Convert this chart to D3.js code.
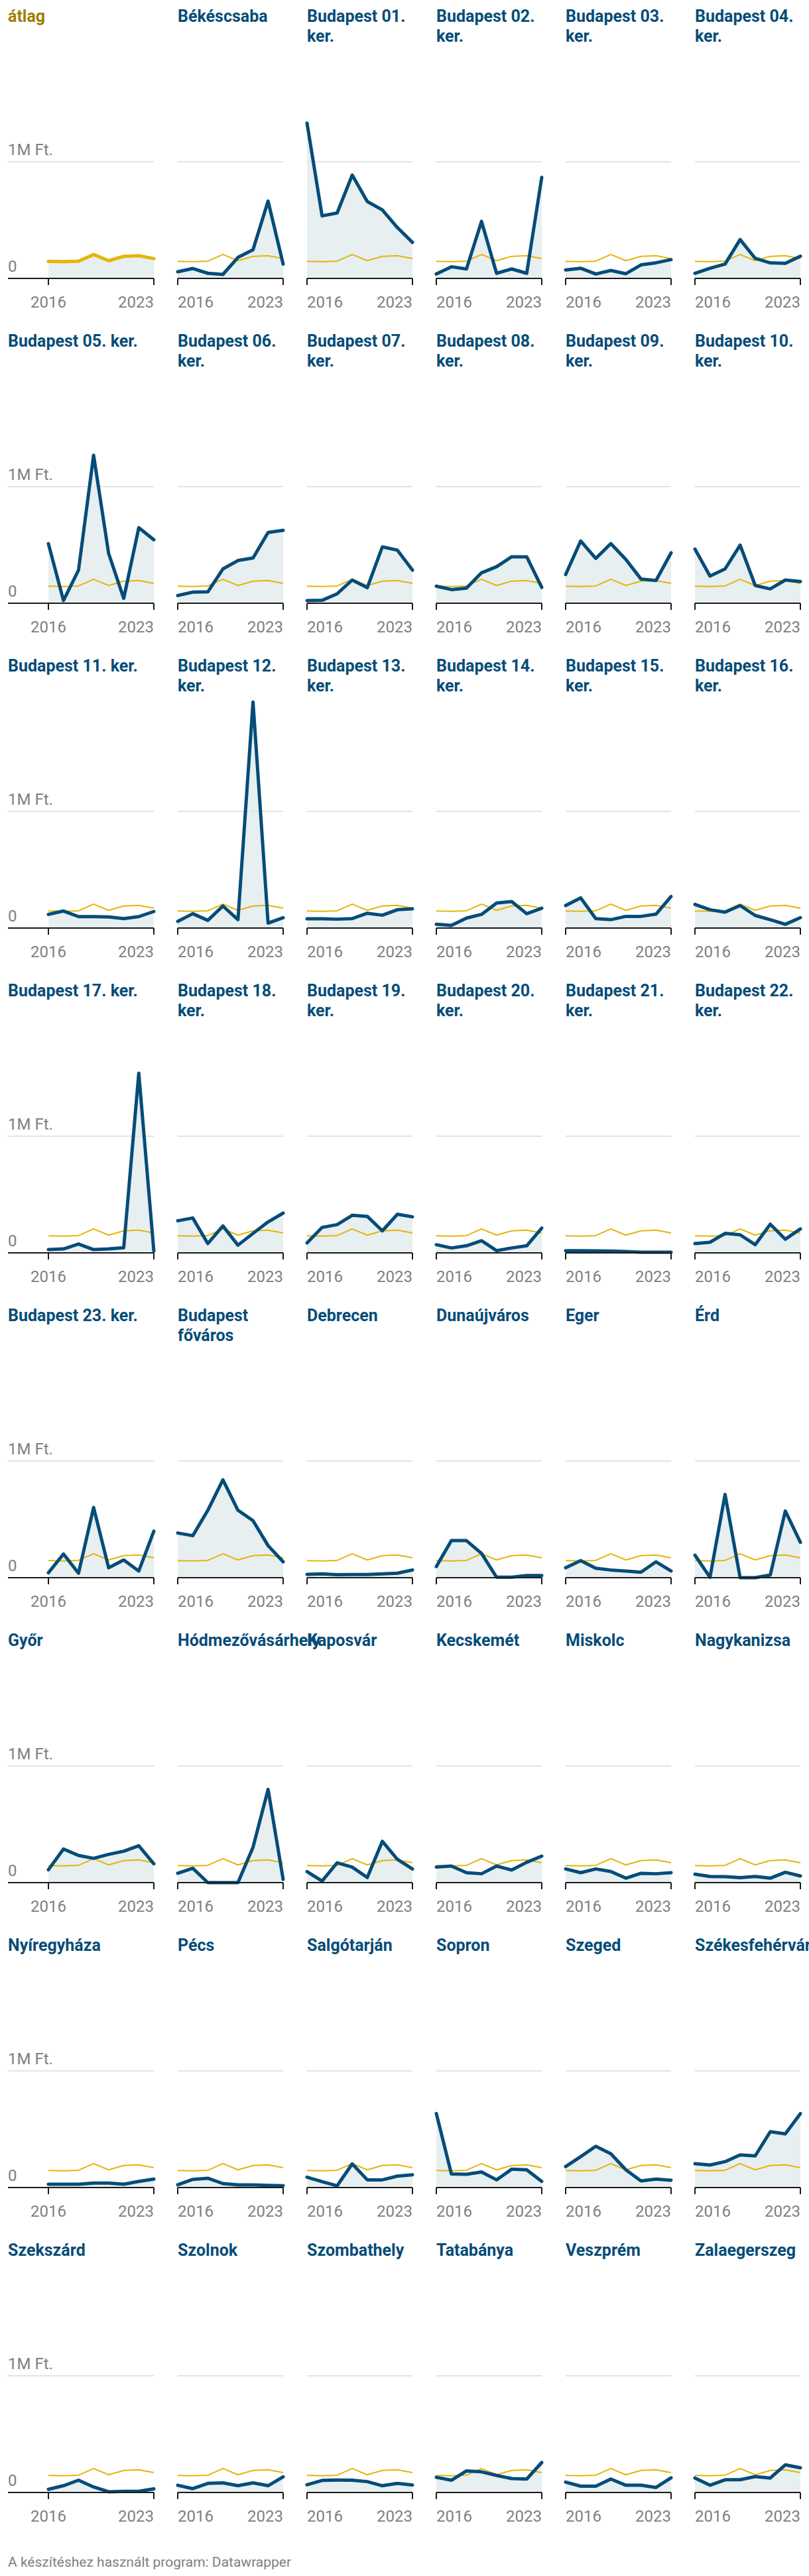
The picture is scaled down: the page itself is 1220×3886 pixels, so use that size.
<!DOCTYPE html>
<html><head><meta charset="utf-8">
<script src="https://cdn.jsdelivr.net/npm/d3@7"></script>
<style>
body{margin:0;background:#fff;}
svg{display:block;font-family:Roboto,"Noto Sans",sans-serif;}
</style>
</head><body>
<svg id="chart" width="1220" height="3886"></svg>
<script>
// ---------- DATA (million Ft) ----------
const years = [2016, 2017, 2018, 2019, 2020, 2021, 2022, 2023];
const tickYears = [2016, 2023];
const yTickValues = [0, 1];
const yTickLabels = ["0", "1M Ft."];
const averageLabel = "átlag";
const average = [0.146, 0.143, 0.148, 0.205, 0.152, 0.189, 0.195, 0.170];

const cityNames = [
  "Békéscsaba", "Budapest 01. ker.", "Budapest 02. ker.", "Budapest 03. ker.", "Budapest 04. ker.",
  "Budapest 05. ker.", "Budapest 06. ker.", "Budapest 07. ker.", "Budapest 08. ker.", "Budapest 09. ker.", "Budapest 10. ker.",
  "Budapest 11. ker.", "Budapest 12. ker.", "Budapest 13. ker.", "Budapest 14. ker.", "Budapest 15. ker.", "Budapest 16. ker.",
  "Budapest 17. ker.", "Budapest 18. ker.", "Budapest 19. ker.", "Budapest 20. ker.", "Budapest 21. ker.", "Budapest 22. ker.",
  "Budapest 23. ker.", "Budapest főváros", "Debrecen", "Dunaújváros", "Eger", "Érd",
  "Győr", "Hódmezővásárhely", "Kaposvár", "Kecskemét", "Miskolc", "Nagykanizsa",
  "Nyíregyháza", "Pécs", "Salgótarján", "Sopron", "Szeged", "Székesfehérvár",
  "Szekszárd", "Szolnok", "Szombathely", "Tatabánya", "Veszprém", "Zalaegerszeg"
];

const cityValues = [
  [0.057, 0.085, 0.044, 0.034, 0.180, 0.246, 0.663, 0.123], // Békéscsaba
  [1.331, 0.536, 0.561, 0.886, 0.659, 0.587, 0.436, 0.309], // Bp 01
  [0.038, 0.100, 0.081, 0.489, 0.044, 0.081, 0.044, 0.867], // Bp 02
  [0.072, 0.087, 0.038, 0.068, 0.040, 0.116, 0.134, 0.161], // Bp 03
  [0.044, 0.087, 0.123, 0.333, 0.172, 0.133, 0.129, 0.191], // Bp 04
  [0.511, 0.023, 0.284, 1.269, 0.426, 0.042, 0.648, 0.544], // Bp 05
  [0.066, 0.095, 0.098, 0.294, 0.366, 0.388, 0.606, 0.625], // Bp 06
  [0.023, 0.025, 0.081, 0.199, 0.133, 0.483, 0.455, 0.284], // Bp 07
  [0.146, 0.117, 0.129, 0.261, 0.313, 0.398, 0.398, 0.136], // Bp 08
  [0.246, 0.534, 0.384, 0.511, 0.375, 0.208, 0.195, 0.432], // Bp 09
  [0.464, 0.233, 0.294, 0.498, 0.152, 0.123, 0.199, 0.186], // Bp 10
  [0.117, 0.146, 0.098, 0.098, 0.095, 0.081, 0.098, 0.142], // Bp 11
  [0.057, 0.123, 0.066, 0.189, 0.072, 1.938, 0.042, 0.089], // Bp 12
  [0.080, 0.080, 0.076, 0.081, 0.127, 0.110, 0.157, 0.165], // Bp 13
  [0.032, 0.023, 0.085, 0.117, 0.214, 0.227, 0.123, 0.170], // Bp 14
  [0.193, 0.259, 0.081, 0.072, 0.100, 0.100, 0.119, 0.271], // Bp 15
  [0.203, 0.157, 0.136, 0.193, 0.108, 0.072, 0.032, 0.089], // Bp 16
  [0.028, 0.034, 0.076, 0.028, 0.034, 0.044, 1.540, 0.015], // Bp 17
  [0.275, 0.299, 0.080, 0.231, 0.066, 0.167, 0.265, 0.341], // Bp 18
  [0.085, 0.218, 0.242, 0.322, 0.313, 0.189, 0.331, 0.309], // Bp 19
  [0.070, 0.042, 0.061, 0.104, 0.019, 0.042, 0.061, 0.212], // Bp 20
  [0.019, 0.019, 0.017, 0.015, 0.011, 0.006, 0.006, 0.006], // Bp 21
  [0.080, 0.091, 0.167, 0.155, 0.070, 0.246, 0.117, 0.205], // Bp 22
  [0.042, 0.203, 0.038, 0.602, 0.085, 0.152, 0.057, 0.398], // Bp 23
  [0.383, 0.360, 0.578, 0.839, 0.578, 0.489, 0.275, 0.136], // Bp főváros
  [0.028, 0.032, 0.025, 0.027, 0.027, 0.032, 0.038, 0.066], // Debrecen
  [0.095, 0.318, 0.318, 0.208, 0.004, 0.004, 0.019, 0.019], // Dunaújváros
  [0.085, 0.146, 0.081, 0.066, 0.057, 0.047, 0.136, 0.057], // Eger
  [0.193, 0.004, 0.714, 0.000, 0.000, 0.023, 0.572, 0.303], // Érd
  [0.110, 0.288, 0.233, 0.208, 0.242, 0.269, 0.316, 0.161], // Győr
  [0.080, 0.123, 0.000, 0.000, 0.000, 0.303, 0.799, 0.028], // Hódmezővásárhely
  [0.095, 0.013, 0.170, 0.133, 0.044, 0.354, 0.199, 0.117], // Kaposvár
  [0.133, 0.142, 0.085, 0.076, 0.142, 0.108, 0.174, 0.227], // Kecskemét
  [0.117, 0.085, 0.117, 0.095, 0.038, 0.080, 0.076, 0.085], // Miskolc
  [0.072, 0.053, 0.051, 0.042, 0.053, 0.038, 0.089, 0.057], // Nagykanizsa
  [0.028, 0.028, 0.028, 0.038, 0.038, 0.028, 0.053, 0.072], // Nyíregyháza
  [0.023, 0.070, 0.080, 0.034, 0.023, 0.023, 0.019, 0.015], // Pécs
  [0.089, 0.051, 0.015, 0.203, 0.066, 0.066, 0.098, 0.110], // Salgótarján
  [0.634, 0.117, 0.114, 0.133, 0.066, 0.157, 0.152, 0.053], // Sopron
  [0.180, 0.265, 0.354, 0.290, 0.152, 0.057, 0.072, 0.063], // Szeged
  [0.205, 0.193, 0.222, 0.280, 0.271, 0.479, 0.460, 0.634], // Székesfehérvár
  [0.027, 0.058, 0.105, 0.047, 0.006, 0.010, 0.010, 0.031], // Szekszárd
  [0.062, 0.033, 0.078, 0.082, 0.058, 0.082, 0.058, 0.134], // Szolnok
  [0.066, 0.103, 0.107, 0.105, 0.093, 0.058, 0.078, 0.064], // Szombathely
  [0.130, 0.105, 0.185, 0.177, 0.146, 0.119, 0.115, 0.257], // Tatabánya
  [0.089, 0.054, 0.054, 0.115, 0.062, 0.062, 0.043, 0.126], // Veszprém
  [0.124, 0.062, 0.109, 0.109, 0.136, 0.124, 0.237, 0.212]  // Zalaegerszeg
];
const footerText = "A készítéshez használt program: Datawrapper";

// ---------- LAYOUT / STYLE ----------
const NCOL = 6, COL_PITCH = 195, PLOT_W = 159, FIRST_PLOT_LEFT = 73, LEFT_EDGE = 12;
const PLOT_H = 352, LINE_H = 30, FIRST_TITLE_BASE = 33, TITLE_TO_ZERO = 357, ZERO_TO_NEXT_TITLE = 103;
const BLUE = "#054c78", GOLD_TXT = "#a07e00", GOLD = "#e5b50a", FILL = "#e7eff1",
      GRID = "#e3e3e3", AXIS = "#1a1a1a", LABEL = "#808080";
const FONT = 24, TITLE_FONT = 25;

const svg = d3.select("#chart");
const panels = [{name: averageLabel, values: average, isAvg: true}]
  .concat(cityNames.map((n, i) => ({name: n, values: cityValues[i], isAvg: false})));

// measurement helper
const meas = svg.append("text").attr("visibility", "hidden");
function textW(t, weight, size) {
  meas.attr("font-weight", weight).attr("font-size", size).text(t);
  return meas.node().getComputedTextLength();
}
function wrap(t, maxW) {
  const words = t.split(" ");
  const lines = [];
  let cur = "";
  words.forEach(w => {
    const test = cur ? cur + " " + w : w;
    if (cur && textW(test, 700, TITLE_FONT) > maxW) { lines.push(cur); cur = w; }
    else cur = test;
  });
  if (cur) lines.push(cur);
  return lines;
}

const x = d3.scaleLinear().domain([years[0], years[years.length - 1]]).range([0, PLOT_W]);
const y = d3.scaleLinear().domain([0, 2]).range([PLOT_H, 0]);
const area = d3.area().x((d, i) => x(years[i])).y0(y(0)).y1(d => y(d));
const line = d3.line().x((d, i) => x(years[i])).y(d => y(d));

const nRows = Math.ceil(panels.length / NCOL);
let titleBase = FIRST_TITLE_BASE;
for (let r = 0; r < nRows; r++) {
  const rowPanels = panels.slice(r * NCOL, r * NCOL + NCOL);
  const wrapped = rowPanels.map((p, c) => {
    const bl = c === 0 ? LEFT_EDGE - FIRST_PLOT_LEFT : 0;
    return wrap(p.name, PLOT_W - bl);
  });
  const rowLines = d3.max(wrapped, l => l.length);
  const zero = titleBase + (rowLines - 1) * LINE_H + TITLE_TO_ZERO;

  rowPanels.forEach((p, c) => {
    const left = FIRST_PLOT_LEFT + c * COL_PITCH;
    const boundL = c === 0 ? LEFT_EDGE - FIRST_PLOT_LEFT : 0;
    const g = svg.append("g").attr("transform", `translate(${left},${zero - PLOT_H})`);

    // title
    const tt = g.append("text").attr("x", boundL).attr("y", titleBase - (zero - PLOT_H))
      .attr("font-size", TITLE_FONT).attr("font-weight", 700)
      .attr("fill", p.isAvg ? GOLD_TXT : BLUE);
    wrapped[c].forEach((ln, i) => tt.append("tspan").attr("x", boundL).attr("dy", i ? LINE_H : 0).text(ln));

    // area
    g.append("path").attr("d", area(p.values)).attr("fill", FILL);

    // gridlines
    yTickValues.forEach(v => {
      if (v === 0) return;
      g.append("line").attr("x1", boundL).attr("x2", PLOT_W).attr("y1", y(v)).attr("y2", y(v))
        .attr("stroke", GRID).attr("stroke-width", 2);
    });
    if (c === 0) {
      yTickValues.forEach((v, i) => {
        g.append("text").attr("x", boundL).attr("y", y(v) - 10).attr("font-size", FONT)
          .attr("fill", LABEL).text(yTickLabels[i]);
      });
    }

    // lines
    if (p.isAvg) {
      g.append("path").attr("d", line(p.values)).attr("fill", "none").attr("stroke", GOLD)
        .attr("stroke-width", 5).attr("stroke-linejoin", "round").attr("stroke-linecap", "round");
    } else {
      g.append("path").attr("d", line(average)).attr("fill", "none").attr("stroke", GOLD)
        .attr("stroke-width", 2).attr("stroke-linejoin", "round");
      g.append("path").attr("d", line(p.values)).attr("fill", "none").attr("stroke", BLUE)
        .attr("stroke-width", 5).attr("stroke-linejoin", "round").attr("stroke-linecap", "round");
    }

    // x axis
    g.append("line").attr("x1", boundL).attr("x2", PLOT_W).attr("y1", y(0)).attr("y2", y(0))
      .attr("stroke", AXIS).attr("stroke-width", 2);
    tickYears.forEach(yr => {
      const tx = x(yr);
      g.append("line").attr("x1", tx).attr("x2", tx).attr("y1", y(0)).attr("y2", y(0) + 10)
        .attr("stroke", AXIS).attr("stroke-width", 2);
      const w = textW(String(yr), 400, FONT);
      let lx = tx - w / 2;
      lx = Math.max(boundL, Math.min(PLOT_W - w, lx));
      g.append("text").attr("x", lx).attr("y", y(0) + 44).attr("font-size", FONT)
        .attr("fill", LABEL).text(yr);
    });
  });

  titleBase = zero + ZERO_TO_NEXT_TITLE;
}

svg.append("text").attr("x", LEFT_EDGE).attr("y", 3872).attr("font-size", 21)
  .attr("fill", LABEL).text(footerText);
meas.remove();
</script>
</body></html>
